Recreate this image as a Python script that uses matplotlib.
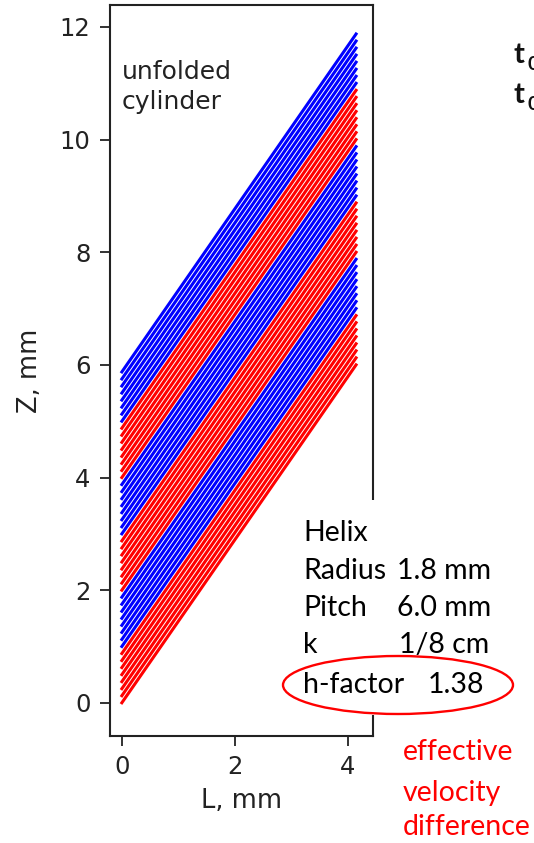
import matplotlib
matplotlib.use("Agg")
import matplotlib.pyplot as plt
from matplotlib.patches import Ellipse, Rectangle

# helix strips on the unfolded cylinder
group_starts = [0, 1, 2, 3, 4, 5]          # Z at L=0 of the first line in each strip, mm
group_colors = ['red', 'blue', 'red', 'blue', 'red', 'blue']
line_offsets = [0, 0.125, 0.25, 0.375, 0.5, 0.625, 0.75, 0.875]
L_span = [0, 4.15]      # mm
rise = 6.0              # Z gain across L_span, mm

x_ticks = [0, 2, 4]
y_ticks = [0, 2, 4, 6, 8, 10, 12]

helix_rows = [("Helix", ""), ("Radius", "1.8 mm"), ("Pitch", "6.0 mm"),
              ("k", "1/8 cm"), ("h-factor", "1.38")]
note_lines = ["effective", "velocity", "difference"]

W, H = 534, 843
fig = plt.figure(figsize=(W / 100, H / 100), dpi=100)
ax = fig.add_axes([110 / W, 1 - 736 / H, 263 / W, 731 / H])

for g0, col in zip(group_starts, group_colors):
    for off in line_offsets:
        z0 = g0 + off
        ax.plot(L_span, [z0, z0 + rise], color=col, lw=2.2)

ax.set_xlim(-0.21, 4.45)
ax.set_ylim(-0.59, 12.39)
ax.set_xticks(x_ticks)
ax.set_yticks(y_ticks)
ax.tick_params(labelsize=17.5, length=7, width=1.3, colors='#222222', pad=7)
for s in ax.spines.values():
    s.set_linewidth(1.5)
    s.set_color('#222222')
ax.set_xlabel("L, mm", fontsize=18.5, color='#222222', labelpad=6)
ax.set_ylabel("Z, mm", fontsize=18.5, color='#222222', labelpad=12)
ax.text(0.045, 0.925, "unfolded\ncylinder", transform=ax.transAxes, fontsize=18,
        va='top', ha='left', color='#222222', linespacing=1.3)

# white box with the helix parameters (covers part of the right spine)
fig.add_artist(Rectangle((292 / W, 1 - 715 / H), (W - 292) / W, 215 / H,
                         transform=fig.transFigure, facecolor='white',
                         edgecolor='none', zorder=5))

row_y = [533, 571, 608, 645, 685]
val_x = [0, 397, 397, 399, 428]
for (lab, val), y, vx in zip(helix_rows, row_y, val_x):
    fig.text(303 / W, 1 - y / H, lab, fontsize=20.5, family='Lato',
             va='center', ha='left', zorder=6)
    if val:
        fig.text(vx / W, 1 - y / H, val, fontsize=20.5, family='Lato',
                 va='center', ha='left', zorder=6)

fig.add_artist(Ellipse((398 / W, 1 - 685 / H), 230 / W, 58 / H,
                       transform=fig.transFigure, fill=False,
                       edgecolor='red', lw=1.7, zorder=7))

for txt, y in zip(note_lines, [752, 793, 827]):
    fig.text(403 / W, 1 - y / H, txt, fontsize=20.5, family='Lato',
             color='red', va='center', ha='left')

# partially visible labels at the right edge
for y in [55, 95]:
    fig.text(514 / W, 1 - y / H, "t", fontsize=21, family='Lato',
             fontweight='bold', color='#111111', va='center', ha='left')
    fig.text(527 / W, 1 - (y + 9) / H, "0", fontsize=14, family='Lato',
             fontweight='bold', color='#111111', va='center', ha='left')

fig.savefig("out.png", dpi=100)
